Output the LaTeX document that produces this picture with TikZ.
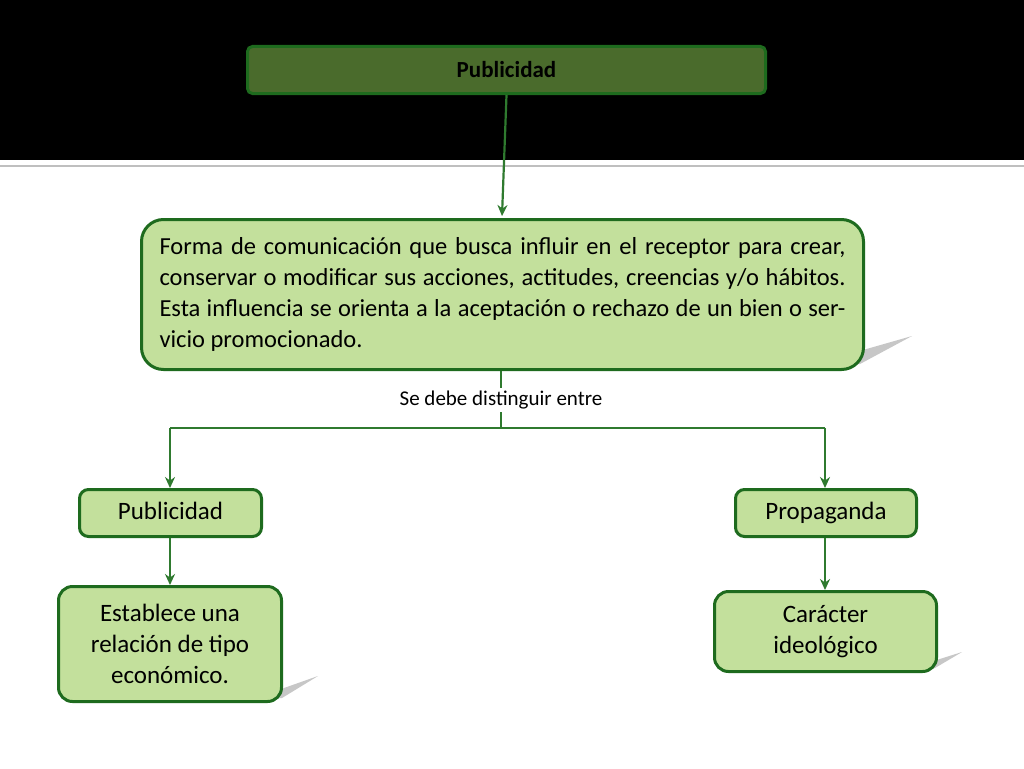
\documentclass[tikz,border=0pt]{standalone}
\usepackage{fontspec}
\setmainfont{Carlito}
\usetikzlibrary{arrows.meta}
\definecolor{dg}{HTML}{1E6B1E}
\definecolor{lg}{HTML}{C3E09C}
\definecolor{topg}{HTML}{4A6B2C}
\definecolor{ln}{HTML}{2F7A2F}
\tikzset{
  box/.style={draw=dg, line width=3pt, fill=lg, rounded corners=9pt, inner sep=0pt, anchor=north west},
  big/.style={box, rounded corners=22pt},
  conn/.style={draw=ln, line width=2.2pt, -{Stealth[length=11pt,width=10pt]}},
  plain/.style={draw=ln, line width=2.2pt},
  shad/.style={fill=black!22},
}
\begin{document}
\begin{tikzpicture}[x=1pt,y=-1pt]
\useasboundingbox (0,0) rectangle (1024,768);
\fill[white] (0,0) rectangle (1024,768);
\fill[black] (0,0) rectangle (1024,160);
\draw[black!25, line width=1.5pt] (0,166) -- (1024,166);
% shadows
\fill[shad] (800,368) -- (912,336) -- (860,364) -- cycle;
\fill[shad] (250,700) -- (318,676) -- (282,698) -- cycle;
\fill[shad] (905,670) -- (962,652) -- (935,668) -- cycle;
% nodes
\node[box, fill=topg, rounded corners=5pt, minimum width=518pt, minimum height=47pt, font=\fontsize{23}{27}\selectfont\bfseries] (top) at (246,45) {Publicidad};
\node[big, minimum width=722pt, minimum height=150pt, text width=686pt, align=justify, font=\fontsize{24.5}{31}\selectfont, inner xsep=18pt] (main) at (140,218) {Forma de comunicación que busca influir en el receptor para crear, conservar o modificar sus acciones, actitudes, creencias y/o hábitos. Esta influencia se orienta a la aceptación o rechazo de un bien o servicio promocionado.};
\node[font=\fontsize{21}{25}\selectfont, inner sep=3pt] (lbl) at (501,400) {Se debe distinguir entre};
\coordinate (j) at (501,428);
\coordinate (jl) at (170,428);
\coordinate (jr) at (825,428);
\node[box, minimum width=182pt, minimum height=47pt, text height=17pt, text depth=5pt, font=\fontsize{25}{29}\selectfont] (pub) at (78,488) {Publicidad};
\node[box, minimum width=181pt, minimum height=47pt, text height=17pt, text depth=5pt, font=\fontsize{25}{29}\selectfont] (prop) at (734,488) {Propaganda};
\node[box, rounded corners=14pt, minimum width=223pt, minimum height=115pt, align=center, font=\fontsize{25}{31}\selectfont] (est) at (57,585) {Establece una\\relación de tipo\\económico.};
\node[box, rounded corners=14pt, minimum width=222pt, minimum height=80pt, align=center, font=\fontsize{25}{31}\selectfont] (car) at (713,590) {Carácter\\ideológico};
% connectors
\draw[conn] (top.south) -- (502,216);
\draw[plain] (main.south -| lbl.north) -- (lbl.north);
\draw[plain] (lbl.south) -- (j);
\draw[plain] (jl) -- (jr);
\draw[conn] (jl) -- (pub.north -| jl);
\draw[conn] (jr) -- (prop.north -| jr);
\draw[conn] (pub.south -| jl) -- (est.north -| jl);
\draw[conn] (prop.south -| jr) -- (car.north -| jr);
\end{tikzpicture}
\end{document}
